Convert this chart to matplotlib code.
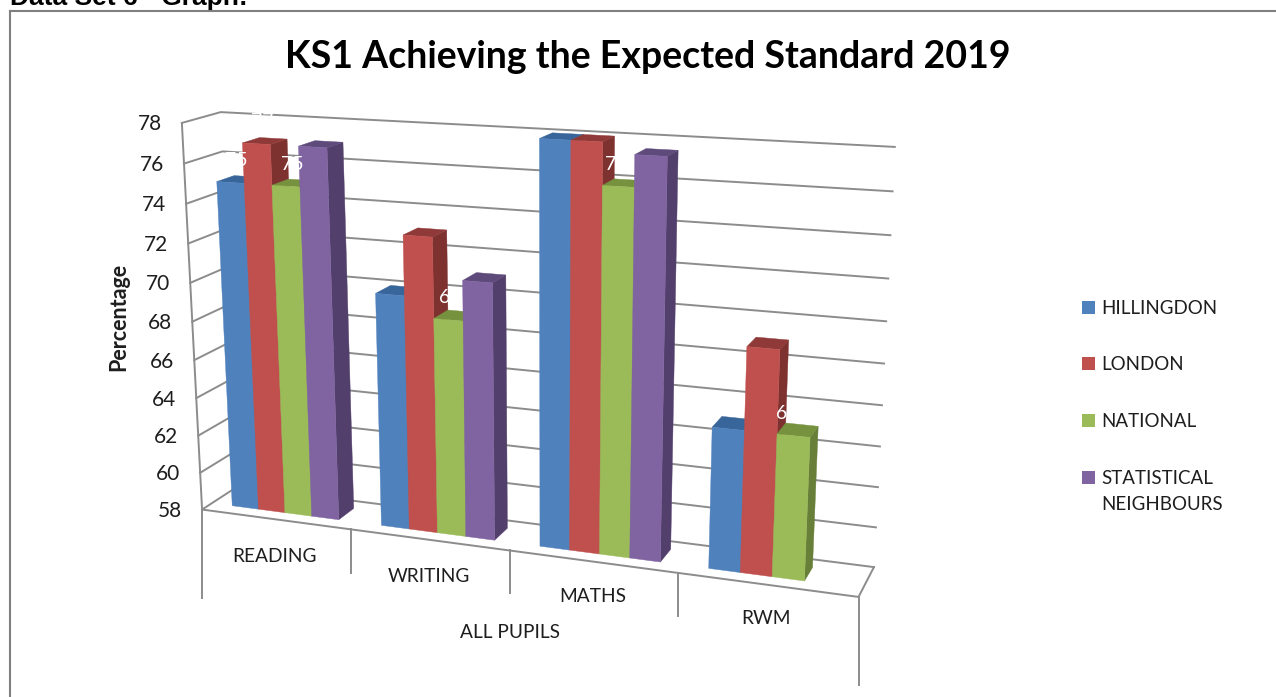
import numpy as np
import matplotlib
matplotlib.use('Agg')
import matplotlib.pyplot as plt
from matplotlib.patches import Polygon, Rectangle

categories = ['READING', 'WRITING', 'MATHS', 'RWM']
series = ['HILLINGDON', 'LONDON', 'NATIONAL', 'STATISTICAL\nNEIGHBOURS']
hillingdon = [75, 70, 78, 65]
london = [77, 73, 78, 69]
national = [75, 69, 76, 65]
neighbours = [77, 71, 77.5, None]
y_ticks = [58, 60, 62, 64, 66, 68, 70, 72, 74, 76, 78]

colors = ['#4F81BD', '#C0504D', '#9BBB59', '#8064A2']
tops = ['#39669A', '#8F3A38', '#76923F', '#5F4A7C']
sides = ['#2F5280', '#7E3230', '#677F38', '#533F6C']
grid_col = '#8C8C8C'
text_col = '#1E1E1E'

plt.rcParams['font.family'] = ['Lato', 'DejaVu Sans']

# (category pos, value, depth) -> where that corner lands in the picture
anchors = [
    (0, 58, 0, 202, 509), (0, 68, 0, 192, 321), (0, 78, 0, 182, 123),
    (1, 58, 0, 352, 530), (2, 58, 0, 509, 551), (3, 58, 0, 679, 573),
    (4, 58, 0, 858, 597),
    (0, 78, 1, 221, 112), (0, 76, 1, 222, 152),
    (4, 78, 1, 895, 147), (4, 68, 1, 884, 363), (4, 58, 1, 874, 567),
]

A = []
b = []
for u, v, d, x, y in anchors:
    v = (v - 58) / 20
    A.append([u, v, d, 1, 0, 0, 0, 0, -x*u, -x*v, -x*d])
    b.append(x)
    A.append([0, 0, 0, 0, u, v, d, 1, -y*u, -y*v, -y*d])
    b.append(y)
p = np.linalg.lstsq(np.array(A, float), np.array(b, float), rcond=None)[0]


def proj(u, v, d):
    v = (v - 58) / 20
    w = p[8]*u + p[9]*v + p[10]*d + 1
    return ((p[0]*u + p[1]*v + p[2]*d + p[3]) / w,
            (p[4]*u + p[5]*v + p[6]*d + p[7]) / w)


fig = plt.figure(figsize=(12.76, 6.97), dpi=100)
ax = fig.add_axes([0, 0, 1, 1])
ax.set_xlim(0, 1276)
ax.set_ylim(697, 0)
ax.axis('off')

# frame
ax.plot([10, 10], [697, 11], color='#7F7F7F', lw=1.5)
ax.plot([10, 1276], [11, 11], color='#7F7F7F', lw=1.5)

ax.text(10, 5, 'Data Set 6 - Graph:', family='Liberation Sans', weight='bold',
        fontsize=19, color='black', va='baseline', ha='left')
ax.text(648, 57, 'KS1 Achieving the Expected Standard 2019', weight='bold',
        fontsize=27, color='black', ha='center', va='center')

# walls and gridlines
for t in y_ticks:
    ax.plot(*zip(proj(0, t, 0), proj(0, t, 1), proj(4, t, 1)),
            color=grid_col, lw=1.4, zorder=1)
    x, y = proj(0, t, 0)
    ax.text(x - 20, y + 1.5, str(t), ha='right', va='center', fontsize=15, color=text_col)
ax.plot(*zip(proj(0, 78, 0), proj(0, 58, 0), proj(4, 58, 0), proj(4, 58, 1)),
        color=grid_col, lw=1.4, zorder=1)

# drop lines under the floor between categories
drops = [88, 44, 43, 43, 88]
for i, h in enumerate(drops):
    x, y = proj(i, 58, 0)
    ax.plot([x, x], [y, y + h], color=grid_col, lw=1.4, zorder=1)

# bars, left to right so each one hides the side of the one before
bar_w = 0.18
gap = 0.14
d0, d1 = 0.27, 0.73
all_vals = [hillingdon, london, national, neighbours]
labels = []
for c in range(len(categories)):
    for s in range(4):
        val = all_vals[s][c]
        if val is None:
            continue
        u0 = c + gap + s*bar_w
        u1 = u0 + bar_w
        front = [proj(u0, 58, d0), proj(u1, 58, d0), proj(u1, val, d0), proj(u0, val, d0)]
        top = [proj(u0, val, d0), proj(u1, val, d0), proj(u1, val, d1), proj(u0, val, d1)]
        side = [proj(u1, 58, d0), proj(u1, 58, d1), proj(u1, val, d1), proj(u1, val, d0)]
        ax.add_patch(Polygon(side, fc=sides[s], ec=sides[s], lw=0.3, zorder=2))
        ax.add_patch(Polygon(top, fc=tops[s], ec=tops[s], lw=0.3, zorder=2))
        ax.add_patch(Polygon(front, fc=colors[s], ec=colors[s], lw=0.3, zorder=2))
        mx, my = proj(u0 + bar_w/2, val, d0)
        # labels drift left of the bar centre going across the chart
        labels.append((mx + 6 - 4*c, my - 22, str(round(val)), s))

# the data labels are white, so only the bits over dark faces show
# neighbours labels sit under the gridlines, they don't cut them in the original
for x, y, txt, s in labels:
    ax.text(x, y, txt, color='white', fontsize=14, ha='center', va='center',
            zorder=0.5 if s == 3 else 3)

label_pos = [(275, 556), (429, 576), (593, 597), (766, 619)]
for name, (x, y) in zip(categories, label_pos):
    ax.text(x, y, name, ha='center', va='center', fontsize=13.8, color=text_col)
ax.text(510, 632, 'ALL PUPILS', ha='center', va='center', fontsize=13.8, color=text_col)
ax.text(119, 317, 'Percentage', rotation=90, weight='bold', ha='center', va='center',
        fontsize=15.5, color=text_col)

# legend
leg_y = [307, 363, 420, 477]
for i, name in enumerate(series):
    ax.add_patch(Rectangle((1082, leg_y[i] - 6.5), 13, 13, fc=colors[i], ec='none'))
    ax.text(1101, leg_y[i] - 7, name, ha='left', va='top', fontsize=13.5, color=text_col,
            linespacing=1.64)

fig.savefig('out.png', dpi=100, facecolor='white')
